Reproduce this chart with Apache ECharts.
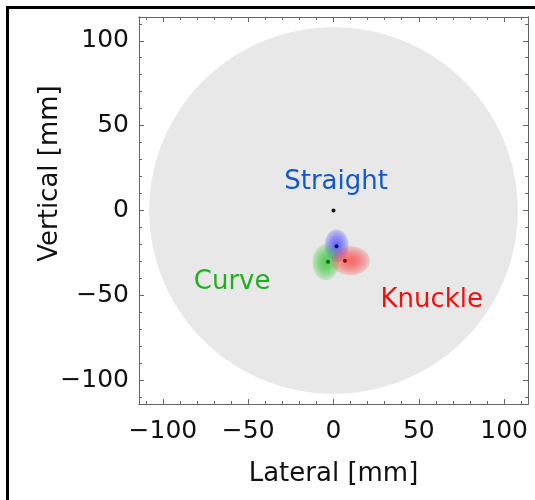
<!DOCTYPE html>
<html>
<head>
<meta charset="utf-8">
<script src="https://cdn.jsdelivr.net/npm/echarts@6/dist/echarts.min.js"></script>
<style>
  html, body { margin: 0; padding: 0; background: #fff; }
  #chart { width: 535px; height: 500px; }
</style>
</head>
<body>
<div id="chart"></div>
<script>
// Landing spread of throws by pitch type (lateral / vertical, mm)
const groups = ['Straight', 'Curve', 'Knuckle'];
const meanX = [1.8, -3.2, 6.7];
const meanY = [-21, -30.2, -29.6];
const ellipseCX = [1.8, -4.5, 10];
const ellipseCY = [-20.8, -30.5, -29.6];
const ellipseRX = [7, 7.8, 11.3];
const ellipseRY = [9.6, 10.5, 8.5];
const labelX = [1.5, -59.4, 57.6];
const labelY = [16.4, -42, -53];
const targetX = [0];
const targetY = [0];
const targetRadius = [108];
const majorTicks = [-100, -50, 0, 50, 100];
const minorTicks = [-110, -90, -80, -70, -60, -40, -30, -20, -10, 10, 20, 30, 40, 60, 70, 80, 90, 110];
const axisMin = -114;
const axisMax = 114;

const fillColors = ['#3030ff', '#22c822', '#ff3030'];
const dotColors = ['#0a0a80', '#0a600a', '#900a0a'];
const textColors = ['#1458c8', '#1fb01f', '#f01010'];

const FONT = 'DejaVu Sans';
const frameColor = '#666';

function fmt(v) { return String(v).replace('-', '\u2212'); }

function makeAxis(pos, ticks, len, labels) {
  return {
    type: 'value', position: pos, min: axisMin, max: axisMax,
    axisLine: { show: true, onZero: false, lineStyle: { color: frameColor, width: 1 } },
    axisTick: { show: true, inside: true, length: len, customValues: ticks, lineStyle: { color: frameColor } },
    axisLabel: labels ? { show: true, customValues: majorTicks, formatter: fmt, fontFamily: FONT, fontSize: 25, color: '#111', margin: labels } : { show: false },
    splitLine: { show: false }
  };
}

const xAxes = [makeAxis('bottom', majorTicks, 5, 15), makeAxis('bottom', minorTicks, 3, 0),
               makeAxis('top', majorTicks, 5, 0), makeAxis('top', minorTicks, 3, 0)];
xAxes[0].name = 'Lateral [mm]';
xAxes[0].nameLocation = 'middle';
xAxes[0].nameGap = 57;
xAxes[0].nameMoveOverlap = false;
xAxes[0].nameTextStyle = { fontFamily: FONT, fontSize: 26, color: '#111' };

const yAxes = [makeAxis('left', majorTicks, 5, 10), makeAxis('left', minorTicks, 3, 0),
               makeAxis('right', majorTicks, 5, 0), makeAxis('right', minorTicks, 3, 0)];
yAxes[0].name = 'Vertical [mm]';
yAxes[0].nameLocation = 'middle';
yAxes[0].nameGap = 76;
yAxes[0].nameMoveOverlap = false;
yAxes[0].nameTextStyle = { fontFamily: FONT, fontSize: 26, color: '#111', padding: [0, 0, 0, 74] };

// Closed outline of an ellipse in data space, projected through the axes
function ellipsePoints(api, cx, cy, rx, ry, n) {
  const pts = [];
  for (let i = 0; i < n; i++) {
    const t = (i / n) * Math.PI * 2;
    pts.push(api.coord([cx + rx * Math.cos(t), cy + ry * Math.sin(t)]));
  }
  return pts;
}

const shadeLevels = [1.0, 0.9, 0.8, 0.7, 0.6, 0.5, 0.4, 0.3, 0.2];

const option = {
  animation: false,
  backgroundColor: '#fff',
  grid: { left: 139, top: 17, right: 7, bottom: 96, outerBoundsMode: 'none', containLabel: false },
  xAxis: xAxes,
  yAxis: yAxes,
  graphic: [{
    type: 'polyline', silent: true, z: 100,
    shape: { points: [[7.5, 500], [7.5, 7.5], [535, 7.5]] },
    style: { stroke: '#000', lineWidth: 3, fill: null }
  }],
  series: [
    {
      name: 'target', type: 'custom', z: 1,
      data: targetX.map((x, i) => [x, targetY[i], targetRadius[i]]),
      encode: { x: 0, y: 1 },
      renderItem: function (params, api) {
        return {
          type: 'polygon',
          shape: { points: ellipsePoints(api, api.value(0), api.value(1), api.value(2), api.value(2), 240) },
          style: { fill: '#e8e8e8' }
        };
      }
    },
    {
      name: 'spread', type: 'custom', z: 2,
      data: groups.map((g, i) => [ellipseCX[i], ellipseCY[i], ellipseRX[i], ellipseRY[i], i]),
      encode: { x: 0, y: 1 },
      renderItem: function (params, api) {
        const cx = api.value(0), cy = api.value(1), rx = api.value(2), ry = api.value(3);
        const idx = api.value(4);
        return {
          type: 'group',
          children: shadeLevels.map(k => ({
            type: 'polygon',
            shape: { points: ellipsePoints(api, cx, cy, rx * k, ry * k, 72) },
            style: { fill: fillColors[idx], opacity: k === 1 ? 0.2 : 0.1 }
          }))
        };
      }
    },
    {
      name: 'mean', type: 'scatter', z: 3, symbolSize: 4,
      data: groups.map((g, i) => ({ value: [meanX[i], meanY[i]], itemStyle: { color: dotColors[i], opacity: 1 } }))
    },
    {
      name: 'origin', type: 'scatter', z: 3, symbolSize: 4,
      itemStyle: { color: '#111', opacity: 1 },
      data: targetX.map((x, i) => [x, targetY[i]])
    },
    {
      name: 'labels', type: 'scatter', z: 4, symbolSize: 0,
      itemStyle: { opacity: 1 },
      data: groups.map((g, i) => ({
        value: [labelX[i], labelY[i]],
        label: {
          show: true, position: 'inside', formatter: g, opacity: 1,
          fontFamily: FONT, fontSize: 26, color: textColors[i]
        }
      }))
    }
  ]
};

const chart = echarts.init(document.getElementById('chart'), null, { renderer: 'canvas' });
chart.setOption(option);
</script>
</body>
</html>
